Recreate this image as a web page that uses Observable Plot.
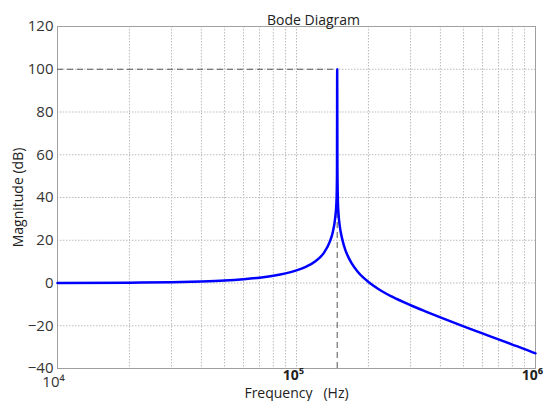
<!DOCTYPE html>
<html>
<head>
<meta charset="utf-8">
<script src="https://cdn.jsdelivr.net/npm/d3@7"></script>
<script src="https://cdn.jsdelivr.net/npm/@observablehq/plot@0.6"></script>
<style>
  html, body { margin: 0; padding: 0; background: #fff; }
  #chart { width: 556px; height: 401px; }
</style>
</head>
<body>
<div id="chart"></div>
<script>
// Frequency (Hz) and magnitude (dB)
const freq = [1e4, 2e4, 3e4, 4e4, 5e4, 6e4, 7e4, 8e4, 9e4, 1e5, 1.1e5, 1.2e5, 1.3e5, 1.38e5, 1.42e5, 1.45e5, 1.47e5, 1.477e5, 1.48e5,
              1.483e5, 1.487e5, 1.49e5, 1.5e5, 1.52e5, 1.55e5, 1.6e5, 1.65e5, 1.7e5, 1.8e5, 1.9e5, 2e5, 2.2e5, 2.5e5, 3e5, 3.5e5, 4e5, 5e5, 6e5, 7e5, 8e5, 9e5, 1e6];
const magDb = [0, 0.15, 0.4, 0.75, 1.2, 1.8, 2.5, 3.4, 4.5, 5.9, 7.7, 10.2, 14, 19.5, 24, 30, 38, 50, 100,
              55, 43, 38, 32, 26, 21, 15.5, 12, 9.3, 5.4, 2.6, 0.5, -2.8, -6.3, -10.4, -13.5, -16.1, -20.3, -23.6, -26.4, -28.8, -30.9, -32.9];
const resonanceFreq = 1.48e5;
const resonancePeakDb = 100;
const yTicks = [-40, -20, 0, 20, 40, 60, 80, 100, 120];
const xMajorTicks = [1e4, 1e5, 1e6];
const xMajorLabels = ["10\u2074", "10\u2075", "10\u2076"];
const xMinorTicks = [2e4,3e4,4e4,5e4,6e4,7e4,8e4,9e4,2e5,3e5,4e5,5e5,6e5,7e5,8e5,9e5];
const titleText = "Bode Diagram";
const xLabel = "Frequency   (Hz)";
const yLabel = "Magnitude (dB)";

const curve = freq.map((f, i) => ({f, db: magDb[i]}));
const font = "'Open Sans', 'Noto Sans', sans-serif";

const fmtX = d => xMajorLabels[xMajorTicks.indexOf(d)];

const chart = Plot.plot({
  width: 556,
  height: 401,
  marginLeft: 57,
  marginRight: 21,
  marginTop: 26,
  marginBottom: 33,
  style: {fontFamily: font, background: "#fff", overflow: "visible"},
  x: {type: "log", domain: [1e4, 1e6]},
  y: {domain: [-40, 120]},
  marks: [
    Plot.gridX(xMinorTicks.concat(xMajorTicks), {stroke: "#bbb", strokeOpacity: 1, strokeDasharray: "1.5,1.5", strokeWidth: 1}),
    Plot.gridY(yTicks, {stroke: "#bbb", strokeOpacity: 1, strokeDasharray: "1.5,1.5", strokeWidth: 1}),
    Plot.frame({stroke: "#a0a0a0", strokeWidth: 1}),
    Plot.axisY(yTicks, {tickSize: 0, tickPadding: 4, fontSize: 15, fill: "#333", label: null}),
    Plot.axisY({ticks: [], label: yLabel, labelAnchor: "center", labelArrow: "none", labelOffset: 44, fontSize: 14, fill: "#222"}),
    Plot.axisX([xMajorTicks[0]], {tickSize: 0, tickPadding: 8, fontSize: 15, fill: "#333", tickFormat: fmtX, label: null, dx: -4}),
    Plot.axisX(xMajorTicks.slice(1), {tickSize: 0, tickPadding: 2, fontSize: 14, fontWeight: "bold", fill: "#222", tickFormat: fmtX, label: null, dx: -3}),
    Plot.axisX({ticks: [], label: xLabel, labelAnchor: "center", labelArrow: "none", labelOffset: 29, fontSize: 14, fill: "#222", dx: 17}),
    Plot.ruleY([resonancePeakDb], {x1: 1e4, x2: resonanceFreq, stroke: "#555", strokeDasharray: "6,4", strokeWidth: 1}),
    Plot.ruleX([resonanceFreq], {y1: -40, y2: resonancePeakDb, stroke: "#555", strokeDasharray: "6,4", strokeWidth: 1}),
    Plot.line(curve, {x: "f", y: "db", stroke: "#0000ff", strokeWidth: 2.5, curve: "monotone-x"}),
    Plot.text([titleText], {frameAnchor: "top", dy: -11, dx: 17, fontSize: 14, fill: "#222", text: d => d})
  ]
});
document.getElementById("chart").appendChild(chart);
</script>
</body>
</html>
